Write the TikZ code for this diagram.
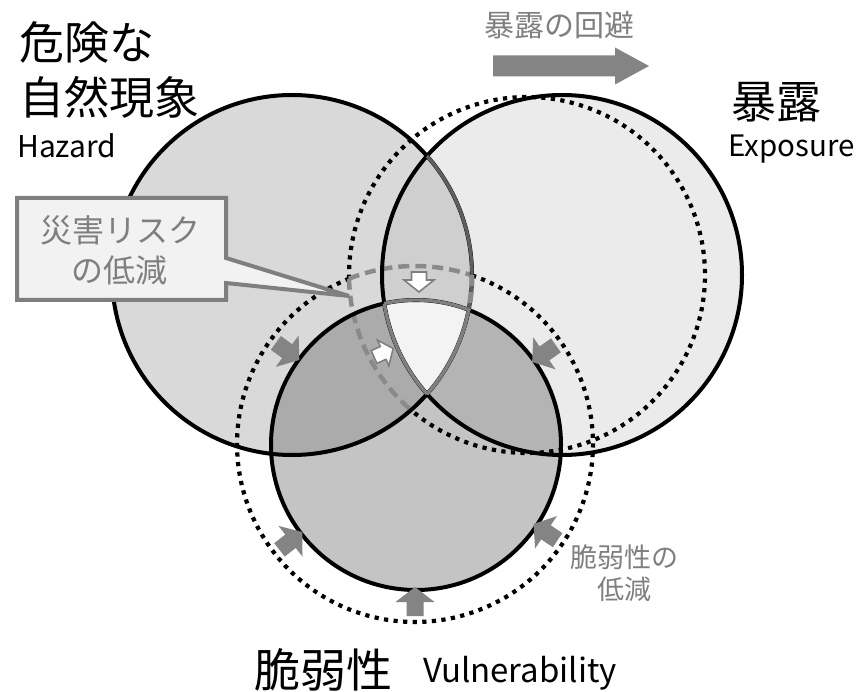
\documentclass[tikz,border=0pt]{standalone}
\usepackage{fontspec}
\setmainfont{Noto Sans CJK JP}
\definecolor{fH}{HTML}{D9D9D9}
\definecolor{fE}{HTML}{EBEBEB}
\definecolor{fV}{HTML}{C4C4C4}
\definecolor{fHE}{HTML}{CFCFCF}
\definecolor{fHV}{HTML}{ABABAB}
\definecolor{fEV}{HTML}{B4B4B4}
\definecolor{fC}{HTML}{F3F3F3}
\definecolor{agray}{HTML}{848484}
\definecolor{tgray}{HTML}{7F7F7F}
\definecolor{dgray}{HTML}{8A8A8A}
\definecolor{lgray}{HTML}{5E5E5E}
\definecolor{boxfill}{HTML}{F2F2F2}
\tikzset{
  solidline/.style={line width=4pt, black},
  dotblk/.style={line width=4.2pt, black, dash pattern=on 4.2pt off 5.4pt},
  dashgray/.style={line width=4.5pt, dgray, dash pattern=on 11pt off 6pt},
  wedge/.style={line width=3.4pt, tgray},
  bigjp/.style={font=\fontsize{45}{50}\selectfont, inner sep=0pt},
  latin/.style={font=\fontsize{30}{34}\selectfont, inner sep=0pt},
  graytext/.style={text=tgray, inner sep=0pt},
  pics/barrow/.style n args={4}{code={
    \fill[agray] (0,-#2) -- ({#1-#4},-#2) -- ({#1-#4},-#3) -- (#1,0) -- ({#1-#4},#3) -- ({#1-#4},#2) -- (0,#2) -- cycle;
  }},
  pics/warrow/.style n args={4}{code={
    \filldraw[fill=white, draw=tgray, line width=1.6pt, line join=miter] (0,-#2) -- ({#1-#4},-#2) -- ({#1-#4},-#3) -- (#1,0) -- ({#1-#4},#3) -- ({#1-#4},#2) -- (0,#2) -- cycle;
  }},
}
\begin{document}
\begin{tikzpicture}[x=1pt,y=-1pt]
\useasboundingbox (0,0) rectangle (862,692);
\fill[white] (0,0) rectangle (862,692);
\coordinate (cH) at (292,275);
\coordinate (cE) at (562,275);
\coordinate (cV) at (416,445);
% fills
\fill[fH] (cH) circle (180);
\fill[fE] (cE) circle (180);
\fill[fV] (cV) circle (145);
\begin{scope}\clip (cH) circle (180); \fill[fHE] (cE) circle (180);\end{scope}
\begin{scope}\clip (cH) circle (180); \fill[fHV] (cV) circle (145);\end{scope}
\begin{scope}\clip (cE) circle (180); \fill[fEV] (cV) circle (145);\end{scope}
\begin{scope}\clip (cH) circle (180); \clip (cE) circle (180); \fill[fC] (cV) circle (145);\end{scope}
% dotted circles (black part)
\draw[dotblk] plot[domain=178.8:490.7, samples=160] ({527+178*cos(\x)},{275+178*sin(\x)});
\draw[dotblk] plot[domain=288.7:608.2, samples=160] ({415+178*cos(\x)},{444+178*sin(\x)});
% dashed gray part
\draw[dashgray] plot[domain=178.8:130.7, samples=60] ({527+178*cos(\x)},{275+178*sin(\x)});
\draw[dashgray] plot[domain=248.2:288.7, samples=60] ({415+178*cos(\x)},{444+178*sin(\x)});
% solid outlines
\draw[solidline] (cH) circle (180);
\draw[solidline] (cE) circle (180);
\draw[solidline] (cV) circle (145);
\begin{scope}\clip (cE) circle (180); \draw[line width=3.4pt, lgray] (cH) circle (180);\end{scope}
\draw[dashgray, line width=5pt] plot[domain=0:11.2, samples=20] ({292+180*cos(\x)},{275+180*sin(\x)});
% central region outline
\begin{scope}\clip (cH) circle (180); \clip (cE) circle (180); \draw[wedge] (cV) circle (145);\end{scope}
\begin{scope}\clip (cV) circle (145); \clip (cH) circle (180); \draw[wedge] (cE) circle (180);\end{scope}
\begin{scope}\clip (cV) circle (145); \clip (cE) circle (180); \draw[wedge] (cH) circle (180);\end{scope}
% white arrows
\pic[rotate=-90] at (419,272) {warrow={20}{7.5}{15}{12}};
\pic[rotate=24] at (374,357) {warrow={21}{7}{14}{11}};
% gray block arrows around vulnerability
\foreach \a in {216,325,142,34,90}{
  \pic[rotate={-(\a+180)}] at ({415+172*cos(\a)},{444+172*sin(\a)}) {barrow={29}{8.5}{19.5}{15}};
}
% top arrow
\pic at (493,66) {barrow={156}{10.5}{18.5}{34}};
% callout
\filldraw[fill=boxfill, draw=tgray, line width=4pt, line join=miter]
  (17,198) -- (226,198) -- (226,258) -- (349,296) -- (226,283) -- (226,300) -- (17,300) -- cycle;
\node[graytext, font=\fontsize{32}{40}\selectfont, align=center] (risk) at (120,250) {災害リスク\\の低減};
% labels
\node[bigjp, anchor=west] (h1) at (19,42) {危険な};
\node[bigjp, anchor=west] (h2) at (19,97) {自然現象};
\node[latin, anchor=west] (h3) at (17,146) {Hazard};
\node[bigjp, anchor=west] (e1) at (731,102) {暴露};
\node[latin, anchor=west, font=\fontsize{29.5}{34}\selectfont] (e2) at (728,149) {Exposure};
\node[graytext, anchor=west, font=\fontsize{30}{34}\selectfont] (avoid) at (484,25) {暴露の回避};
\node[bigjp, anchor=west, font=\fontsize{46}{50}\selectfont] (v1) at (254,670) {脆弱性};
\node[latin, anchor=west, font=\fontsize{33}{36}\selectfont] (v2) at (423,673) {Vulnerability};
\node[graytext, font=\fontsize{27}{32}\selectfont, align=center] (vred) at (624,573) {脆弱性の\\低減};
\end{tikzpicture}
\end{document}
